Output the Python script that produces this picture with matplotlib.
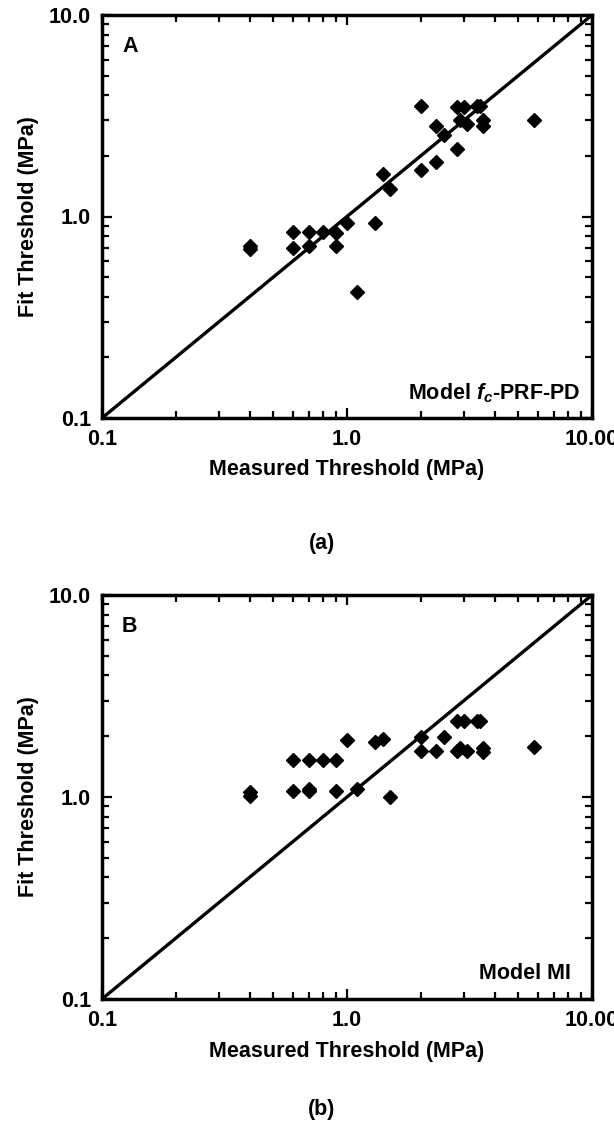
import matplotlib
matplotlib.use("Agg")
import matplotlib.pyplot as plt
from matplotlib.ticker import FixedLocator, FixedFormatter, LogLocator, NullFormatter

plt.rcParams['font.family'] = ['Liberation Sans', 'DejaVu Sans']
plt.rcParams['mathtext.fontset'] = 'custom'
plt.rcParams['mathtext.it'] = 'Liberation Sans:italic:bold'
plt.rcParams['mathtext.rm'] = 'Liberation Sans:bold'

# Panel A: model fc-PRF-PD
measured_a = [0.4, 0.4, 0.6, 0.6, 0.7, 0.7, 0.8, 0.9, 0.9, 1.0, 1.1, 1.3, 1.4, 1.5,
              2.0, 2.0, 2.3, 2.3, 2.5, 2.8, 2.8, 2.9, 3.0, 3.1, 3.4, 3.5, 3.6, 3.6, 5.8]
fit_a = [0.69, 0.71, 0.84, 0.70, 0.84, 0.71, 0.84, 0.83, 0.71, 0.93, 0.42, 0.93, 1.62, 1.37,
         3.55, 1.70, 2.82, 1.86, 2.53, 2.16, 3.50, 3.02, 3.50, 2.87, 3.55, 3.55, 3.02, 2.82, 3.02]

# Panel B: model MI
measured_b = [0.4, 0.4, 0.6, 0.6, 0.7, 0.7, 0.7, 0.8, 0.9, 0.9, 1.0, 1.1, 1.3, 1.4, 1.5,
              2.0, 2.0, 2.3, 2.5, 2.8, 2.8, 2.9, 3.0, 3.1, 3.4, 3.5, 3.6, 3.6, 5.8]
fit_b = [1.01, 1.06, 1.52, 1.07, 1.52, 1.07, 1.10, 1.52, 1.52, 1.07, 1.92, 1.09, 1.88, 1.93, 1.00,
         1.98, 1.68, 1.68, 1.98, 2.38, 1.68, 1.75, 2.38, 1.68, 2.38, 2.38, 1.75, 1.67, 1.77]

x_tick_vals = [0.1, 1.0, 10.0]
x_tick_labels = ["0.1", "1.0", "10.00"]
y_tick_vals = [0.1, 1.0, 10.0]
y_tick_labels = ["0.1", "1.0", "10.0"]

W, H = 614, 1129
fig = plt.figure(figsize=(W / 100, H / 100), dpi=100)

def make_axes(left, top, right, bottom):
    return fig.add_axes([left / W, 1 - bottom / H, (right - left) / W, (bottom - top) / H])

FS = 15.5

panels = [
    (make_axes(102, 15, 592, 418), measured_a, fit_a, "A", r"Model $f_c$-PRF-PD", 0.976, "(a)", 543),
    (make_axes(102, 595, 592, 999), measured_b, fit_b, "B", "Model MI", 0.956, "(b)", 1110),
]

for ax, mx, fy, letter, model, model_x, cap, cap_y in panels:
    ax.set_xscale('log')
    ax.set_yscale('log')
    ax.set_xlim(0.1, 10)
    ax.set_ylim(0.1, 10)
    ax.plot([0.1, 10], [0.1, 10], color='black', lw=2.4, solid_capstyle='butt', zorder=2)
    ax.plot(mx, fy, linestyle='none', marker='D', ms=7.5, mfc='black', mec='black',
            mew=1, zorder=3, clip_on=False)
    ax.xaxis.set_major_locator(FixedLocator(x_tick_vals))
    ax.xaxis.set_major_formatter(FixedFormatter(x_tick_labels))
    ax.yaxis.set_major_locator(FixedLocator(y_tick_vals))
    ax.yaxis.set_major_formatter(FixedFormatter(y_tick_labels))
    ax.xaxis.set_minor_locator(LogLocator(base=10, subs=range(2, 10)))
    ax.yaxis.set_minor_locator(LogLocator(base=10, subs=range(2, 10)))
    ax.xaxis.set_minor_formatter(NullFormatter())
    ax.yaxis.set_minor_formatter(NullFormatter())
    ax.tick_params(which='both', direction='in', top=True, right=True, width=1.6, colors='black')
    ax.tick_params(which='major', length=7, labelsize=FS, pad=8)
    ax.tick_params(which='minor', length=5)
    for lab in ax.get_xticklabels() + ax.get_yticklabels():
        lab.set_fontweight('bold')
    for sp in ax.spines.values():
        sp.set_linewidth(2.5)
    ax.set_xlabel("Measured Threshold (MPa)", fontsize=FS, fontweight='bold', va='center')
    ax.xaxis.set_label_coords(0.5, -52 / 403)
    ax.set_ylabel("Fit Threshold (MPa)", fontsize=FS, fontweight='bold', va='center')
    ax.yaxis.set_label_coords(-73 / 490, 0.5)
    ax.text(0.041, 0.923, letter, transform=ax.transAxes, fontsize=FS, fontweight='bold',
            ha='left', va='center')
    ax.text(model_x, 0.062, model, transform=ax.transAxes, fontsize=FS, fontweight='bold',
            ha='right', va='center')
    fig.text(322 / W, 1 - cap_y / H, cap, fontsize=FS, fontweight='bold', ha='center', va='center')

fig.savefig("out.png", dpi=100)
